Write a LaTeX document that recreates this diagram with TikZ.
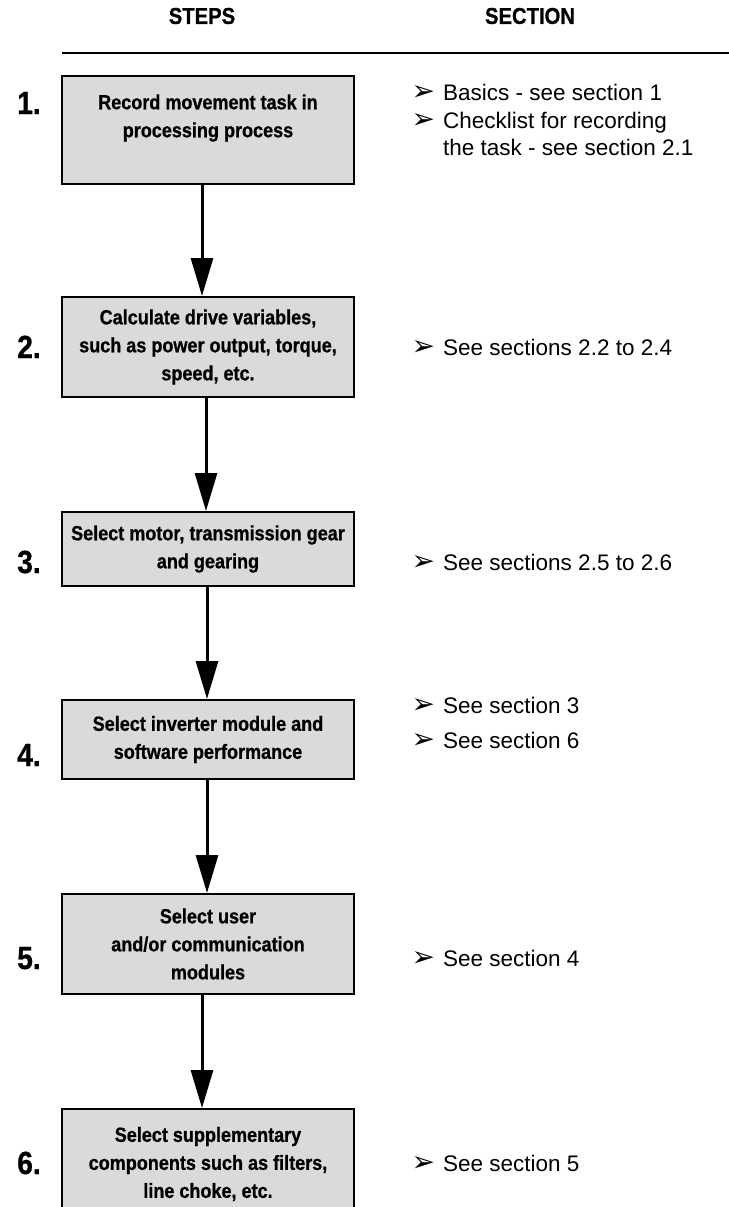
\documentclass[tikz,border=0pt]{standalone}
\usepackage{fontspec}
\setmainfont{Liberation Sans}
\newfontfamily\condfam[FakeStretch=0.88,FakeBold=0.8]{Liberation Sans}
\newfontfamily\dingfam{DejaVu Sans}
\usetikzlibrary{arrows.meta}

\definecolor{boxfill}{RGB}{218,218,218}

\newcommand\boxtextfont{\condfam\bfseries\fontsize{20.5bp}{28bp}\selectfont}
\newcommand\stepnumfont{\condfam\bfseries\fontsize{32bp}{32bp}\selectfont}
\newcommand\colheadfont{\condfam\bfseries\fontsize{23bp}{23bp}\selectfont}
\newcommand\reffont{\fontsize{22.5bp}{27bp}\selectfont}
\newcommand\refbullet{\llap{{\dingfam\fontsize{28bp}{28bp}\selectfont ➢}\hspace{8bp}}}

\tikzset{
  stepbox/.style={draw=black, line width=2bp, fill=boxfill, minimum width=292bp,
    inner sep=0pt, align=center, font=\boxtextfont},
  flow/.style={line width=3bp, -{Triangle[length=38bp,width=22bp]}},
  stepnum/.style={anchor=base, inner sep=0pt, font=\stepnumfont},
  colhead/.style={inner sep=0pt, font=\colheadfont},
  sectref/.style={anchor=base west, inner sep=0pt, font=\reffont},
}

\begin{document}
\begin{tikzpicture}[x=1bp, y=-1bp]
\useasboundingbox (0,0) rectangle (729,1207);

% column headings and rule
\node[colhead] (hsteps) at (202,16) {STEPS};
\node[colhead] (hsect) at (530,16) {SECTION};
\coordinate (rulewest) at (62,53);
\coordinate (ruleeast) at (729,53);
\draw[line width=2bp] (rulewest) -- (ruleeast);

% step boxes
\node[stepbox, minimum height=108bp,
  label={[font=\boxtextfont, align=center, yshift=12bp]center:{Record movement task in\\processing process}}]
  (b1) at (208,130) {};
\node[stepbox, minimum height=100bp] (b2) at (208,347)
  {Calculate drive variables,\\such as power output, torque,\\speed, etc.};
\node[stepbox, minimum height=74bp] (b3) at (208,549)
  {Select motor, transmission gear\\and gearing};
\node[stepbox, minimum height=79bp] (b4) at (208,739.5)
  {Select inverter module and\\software performance};
\node[stepbox, minimum height=100bp] (b5) at (208,944)
  {Select user\\and/or communication\\modules};
\node[stepbox, minimum height=110bp] (b6) at (208,1164)
  {Select supplementary\\components such as filters,\\line choke, etc.};

% flow arrows
\draw[flow] ([xshift=-6bp]b1.south) -- ([xshift=-6bp]b2.north);
\draw[flow] ([xshift=-2bp]b2.south) -- ([xshift=-2bp]b3.north);
\draw[flow] ([xshift=-1bp]b3.south) -- ([xshift=-1bp]b4.north);
\draw[flow] ([xshift=-1bp]b4.south) -- ([xshift=-1bp]b5.north);
\draw[flow] ([xshift=-6bp]b5.south) -- ([xshift=-6bp]b6.north);

% step numbers
\node[stepnum] (n1) at (29,114) {1.};
\node[stepnum] (n2) at (29,358) {2.};
\node[stepnum] (n3) at (29,573) {3.};
\node[stepnum] (n4) at (29,766) {4.};
\node[stepnum] (n5) at (29,969) {5.};
\node[stepnum] (n6) at (29,1174) {6.};

% section references
\node[sectref] (r1a) at (443,100) {\refbullet Basics - see section 1};
\node[sectref] (r1b) at (443,128) {\refbullet Checklist for recording};
\node[sectref] (r1c) at (443,155) {the task - see section 2.1};
\node[sectref] (r2) at (443,355) {\refbullet See sections 2.2 to 2.4};
\node[sectref] (r3) at (443,570) {\refbullet See sections 2.5 to 2.6};
\node[sectref] (r4a) at (443,713) {\refbullet See section 3};
\node[sectref] (r4b) at (443,748) {\refbullet See section 6};
\node[sectref] (r5) at (443,966) {\refbullet See section 4};
\node[sectref] (r6) at (443,1171) {\refbullet See section 5};
\end{tikzpicture}
\end{document}
